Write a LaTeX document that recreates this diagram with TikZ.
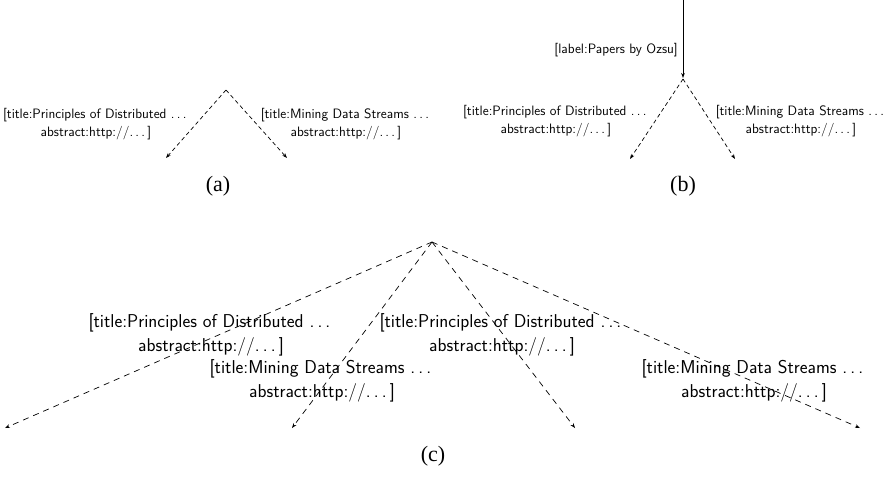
\documentclass[tikz,border=0pt]{standalone}
\usepackage{fontspec}
\newfontfamily\capfont{Liberation Serif}
\usetikzlibrary{arrows.meta}
% spaced ellipsis, three dots with thin kerns
\newcommand{\spdots}{.\kern0.167em.\kern0.167em.\kern0.167em}
\begin{document}
\begin{tikzpicture}[x=1pt,y=-1pt,
  tip/.style={-{Stealth[length=5pt,width=3.6pt]}},
  smalledge/.style={tip, line width=0.7pt, dash pattern=on 4pt off 3pt},
  bigedge/.style={tip, line width=0.7pt, dash pattern=on 6pt off 5pt},
  solidedge/.style={tip, line width=0.7pt},
  smalllbl/.style={font=\fontsize{13.6}{17.5}\selectfont\sffamily, align=center, inner sep=0pt},
  biglbl/.style={font=\fontsize{18.6}{24}\selectfont\sffamily, align=center, inner sep=0pt},
  caption/.style={font=\fontsize{22}{24}\selectfont\capfont, inner sep=0pt}]
\useasboundingbox (0,0) rectangle (890,480);

% ---- (a): two unlabelled edges out of one node
\coordinate (a0) at (226,90);
\coordinate (a1) at (166,158);
\coordinate (a2) at (287,158);
\draw[smalledge] (a0) -- (a1);
\draw[smalledge] (a0) -- (a2);
\node[smalllbl] (la1) at (96,124) {[title:Principles of Distributed \spdots\\abstract:http://\spdots]};
\node[smalllbl] (la2) at (346,124) {[title:Mining Data Streams \spdots\\abstract:http://\spdots]};
\node[caption] (capa) at (218,186) {(a)};

% ---- (b): the same two edges, reached by a labelled edge
\coordinate (btop) at (683,0);
\coordinate (b0) at (683,79);
\coordinate (b1) at (630,159);
\coordinate (b2) at (735,159);
\draw[solidedge, shorten >=1pt] (btop) -- (b0);
\draw[smalledge] (b0) -- (b1);
\draw[smalledge] (b0) -- (b2);
\node[smalllbl, anchor=east] (lb0) at (678,50) {[label:Papers by Ozsu]};
\node[smalllbl] (lb1) at (556,121) {[title:Principles of Distributed \spdots\\abstract:http://\spdots]};
\node[smalllbl] (lb2) at (801,121) {[title:Mining Data Streams \spdots\\abstract:http://\spdots]};
\node[caption] (capb) at (683,186) {(b)};

% ---- (c): four edges out of one node
\coordinate (c0) at (432,242);
\coordinate (c1) at (5,428);
\coordinate (c2) at (292,428);
\coordinate (c3) at (575,428);
\coordinate (c4) at (860,428);
\foreach \e in {c1,c2,c3,c4}
  \draw[bigedge] (c0) -- (\e);
\node[biglbl] (lc1) at (211,335) {[title:Principles of Distributed \spdots\\abstract:http://\spdots]};
\node[biglbl] (lc2) at (322,381) {[title:Mining Data Streams \spdots\\abstract:http://\spdots]};
\node[biglbl] (lc3) at (502,335) {[title:Principles of Distributed \spdots\\abstract:http://\spdots]};
\node[biglbl] (lc4) at (754,381) {[title:Mining Data Streams \spdots\\abstract:http://\spdots]};
\node[caption] (capc) at (433,456) {(c)};
\end{tikzpicture}
\end{document}
